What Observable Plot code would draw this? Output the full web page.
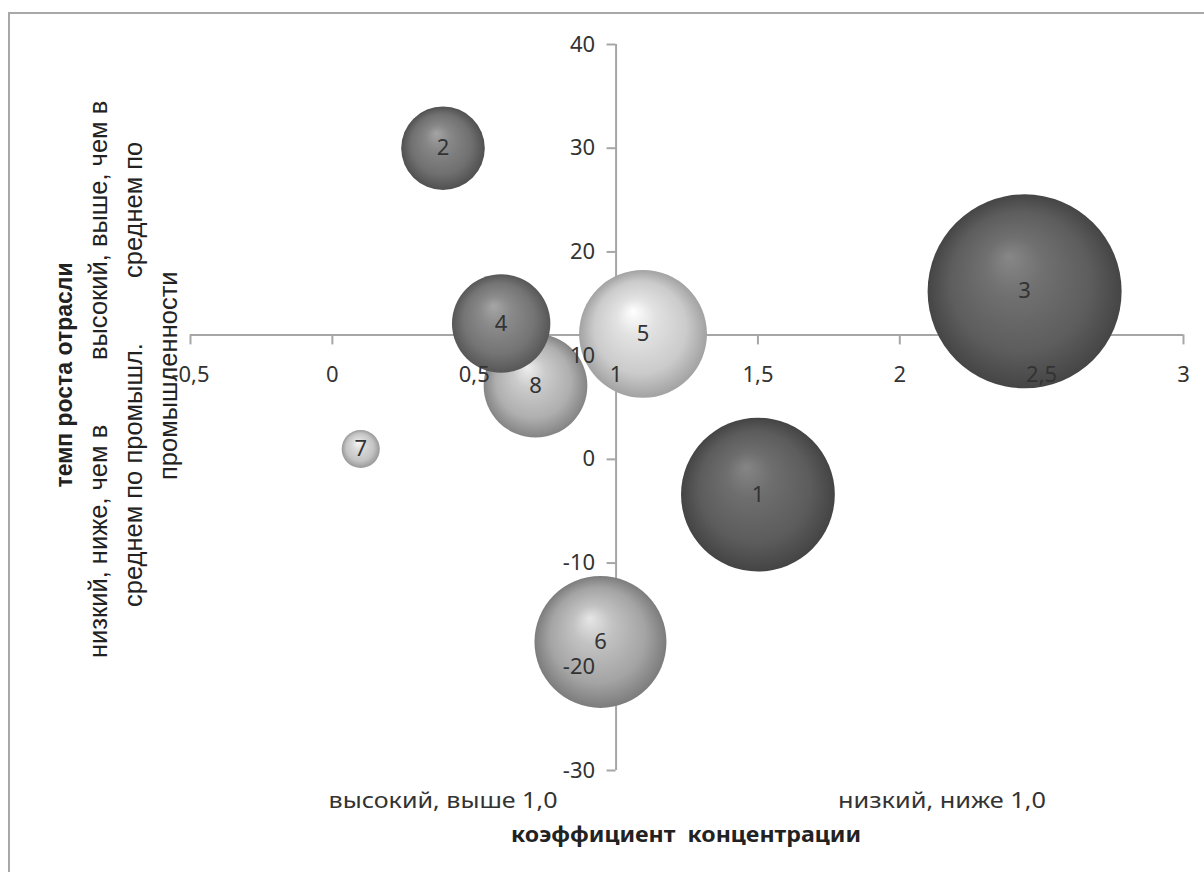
<!DOCTYPE html>
<html><head><meta charset="utf-8">
<script src="https://cdn.jsdelivr.net/npm/d3@7"></script>
<script src="https://cdn.jsdelivr.net/npm/@observablehq/plot@0.6"></script>
<style>
html,body{margin:0;padding:0;background:#fff;}
#chart{position:relative;width:1204px;height:872px;overflow:hidden;}
</style></head><body><div id="chart"></div>
<script>
// ---- data ----
const ids = [1, 2, 3, 4, 5, 6, 7, 8];
const concentration = [1.5, 0.39, 2.44, 0.595, 1.095, 0.945, 0.1, 0.716];
const growth = [-3.4, 30, 16.2, 13.1, 12.1, -17.6, 1.0, 7.1];
const sizes = [22, 6.5, 35, 9, 15.2, 16.2, 1.35, 10];
const xTicks = [-0.5, 0, 0.5, 1, 1.5, 2, 2.5, 3];
const xTickLabels = ["-0,5", "0", "0,5", "1", "1,5", "2", "2,5", "3"];
const yTicks = [-30, -20, -10, 0, 10, 20, 30, 40];
const yTickLabels = ["-30", "-20", "-10", "0", "10", "20", "30", "40"];
const xAxisCrossesAt = 12;   // growth value where the horizontal axis lies
const yAxisCrossesAt = 1;    // concentration value where the vertical axis lies
const xTitle = "коэффициент  концентрации";
const xLeftNote = "высокий, выше 1,0";
const xRightNote = "низкий, ниже 1,0";
const yTitle = "темп роста отрасли";
const yNoteLow = ["низкий, ниже, чем в", "среднем по промышл."];
const yNoteHigh = ["высокий, выше, чем в", "среднем по", "промышленности"];

// ---- styles (kept apart from data) ----
const shades = {
  1: ["#858585", "#5c5c5c", "#444444"],
  2: ["#a4a4a4", "#707070", "#505050"],
  3: ["#878787", "#5d5d5d", "#454545"],
  4: ["#a6a6a6", "#747474", "#575757"],
  5: ["#ffffff", "#cbcbcb", "#a2a2a2"],
  6: ["#e6e6e6", "#a4a4a4", "#7c7c7c"],
  7: ["#f8f8f8", "#c4c4c4", "#989898"],
  8: ["#eeeeee", "#afafaf", "#848484"]
};
const axisColor = "#a6a6a6";
const textColor = "#333333";
const tickFont = "'Noto Sans', sans-serif";

const rows = ids.map((id, i) => ({id, x: concentration[i], y: growth[i], size: sizes[i]}));
const xt = xTicks.map((v, i) => ({v, label: xTickLabels[i]}));
const yt = yTicks.map((v, i) => ({v, label: yTickLabels[i]}));

const plot = Plot.plot({
  width: 1204,
  height: 872,
  marginLeft: 190,
  marginRight: 21,
  marginTop: 44,
  marginBottom: 102,
  x: {domain: [-0.5, 3], axis: null},
  y: {domain: [-30, 40], axis: null},
  r: {type: "sqrt", domain: [0, 35], range: [0, 97]},
  color: {type: "identity"},
  style: {fontFamily: tickFont, background: "transparent"},
  marks: [
    Plot.ruleY([xAxisCrossesAt], {stroke: axisColor, strokeWidth: 2}),
    Plot.ruleX([yAxisCrossesAt], {stroke: axisColor, strokeWidth: 2}),
    Plot.ruleX(xt, {x: "v", y1: xAxisCrossesAt, y2: xAxisCrossesAt, insetBottom: -10, stroke: axisColor, strokeWidth: 2}),
    Plot.ruleY(yt, {y: "v", x1: yAxisCrossesAt, x2: yAxisCrossesAt, insetLeft: -9, stroke: axisColor, strokeWidth: 2}),
    Plot.dot(rows, {x: "x", y: "y", r: "size", fill: d => `url(#bub${d.id})`, stroke: "none"}),
    Plot.text(rows, {x: "x", y: "y", text: d => String(d.id), fontSize: 22, fill: textColor}),
    Plot.text(xt, {x: "v", y: () => xAxisCrossesAt, text: "label", dy: 40, fontSize: 22, fill: textColor}),
    Plot.text(yt, {x: () => yAxisCrossesAt, y: "v", text: "label", dx: -21, textAnchor: "end", fontSize: 22, fill: textColor})
  ]
});

const svg = d3.select(plot);
const defs = svg.insert("defs", ":first-child");
for (const id of ids) {
  const [hi, mid, lo] = shades[id];
  const g = defs.append("radialGradient").attr("id", `bub${id}`)
    .attr("cx", "50%").attr("cy", "50%").attr("r", "50%")
    .attr("fx", "42%").attr("fy", "32%");
  g.append("stop").attr("offset", "0%").attr("stop-color", hi);
  g.append("stop").attr("offset", "30%").attr("stop-color", d3.interpolateRgb(hi, mid)(0.55));
  g.append("stop").attr("offset", "72%").attr("stop-color", mid);
  g.append("stop").attr("offset", "100%").attr("stop-color", lo);
}

// chart border
svg.insert("path", ":first-child")
  .attr("d", "M9,880 L9,13 L1215,13")
  .attr("fill", "none").attr("stroke", "#a8a8a8").attr("stroke-width", 2);

// x-axis notes and title
function hText(x, y, t, len, bold) {
  svg.append("text").attr("x", x - len / 2).attr("y", y)
    .attr("text-anchor", "start")
    .attr("font-size", 22).attr("font-weight", bold ? "bold" : "normal")
    .attr("fill", bold ? "#222" : textColor)
    .attr("textLength", len).attr("lengthAdjust", "spacingAndGlyphs")
    .style("white-space", "pre").text(t);
}
hText(443, 808, xLeftNote, 229, false);
hText(942, 808, xRightNote, 208, false);
hText(686, 842, xTitle, 350, true);

// y-axis title (rotated)
const yFont = "'Liberation Sans', Arial, sans-serif";
function vText(x, y, t, anchor, size, bold) {
  svg.append("text").attr("transform", `translate(${x},${y}) rotate(-90)`)
    .attr("text-anchor", anchor).attr("dominant-baseline", "middle")
    .attr("font-family", yFont).attr("font-size", size)
    .attr("font-weight", bold ? "bold" : "normal").attr("fill", "#222")
    .style("white-space", "pre").text(t);
}
vText(66, 375, yTitle, "middle", 23, true);
vText(100, 658, yNoteLow[0], "start", 25.5);
vText(100, 360, yNoteHigh[0], "start", 25.5);
vText(135, 607, yNoteLow[1], "start", 25.5);
vText(135, 278, yNoteHigh[1], "start", 25.5);
vText(170, 480, yNoteHigh[2], "start", 25.5);

document.getElementById("chart").appendChild(plot);
</script></body></html>
